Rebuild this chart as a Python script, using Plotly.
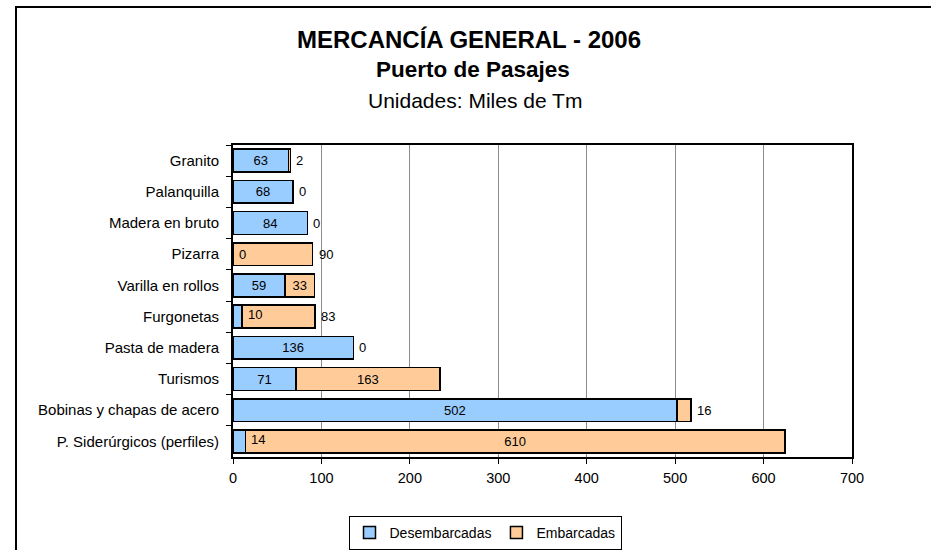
import plotly.graph_objects as go

categories = ["Granito", "Palanquilla", "Madera en bruto", "Pizarra", "Varilla en rollos",
              "Furgonetas", "Pasta de madera", "Turismos", "Bobinas y chapas de acero",
              "P. Siderúrgicos (perfiles)"]
desembarcadas = [63, 68, 84, 0, 59, 10, 136, 71, 502, 14]
embarcadas = [2, 0, 0, 90, 33, 83, 0, 163, 16, 610]
# label placement (True = label drawn inside the segment)
desemb_inside = [True, True, True, False, True, False, True, True, True, False]
emb_inside = [False, False, False, False, True, False, False, True, False, True]
x_ticks = [0, 100, 200, 300, 400, 500, 600, 700]

BLUE = "#99CCFF"
ORANGE = "#FFCC99"
FONT = "Liberation Sans, Arial, sans-serif"

W, H = 931, 550
# plot area in screen pixels
SX0, SX1, SY0, SY1 = 233, 852, 145, 457
L, R, T, B = SX0, W - SX1, SY0, H - SY1
PW, PH = W - L - R, H - T - B


def px_x(p):
    return (p - L) / PW


def px_y(p):
    return (H - B - p) / PH


totals = [d + e for d, e in zip(desembarcadas, embarcadas)]

fig = go.Figure()
fig.add_trace(go.Bar(
    y=categories, x=desembarcadas, orientation="h", name="Desembarcadas",
    marker=dict(color=BLUE, line=dict(color="black", width=1.5)),
    text=[str(v) if ok else "" for v, ok in zip(desembarcadas, desemb_inside)],
    textposition="inside", insidetextanchor="middle", constraintext="none",
    textfont=dict(size=13, color="black", family=FONT), hoverinfo="skip",
))
fig.add_trace(go.Bar(
    y=categories, x=embarcadas, orientation="h", name="Embarcadas",
    marker=dict(color=ORANGE, line=dict(color="black", width=1.5)),
    text=[str(v) if ok else "" for v, ok in zip(embarcadas, emb_inside)],
    textposition="inside", insidetextanchor="middle", constraintext="none",
    textfont=dict(size=13, color="black", family=FONT), hoverinfo="skip",
))

annotations = [
    dict(text="<b>MERCANCÍA GENERAL - 2006</b>", xref="paper", yref="paper",
         x=px_x(469), y=px_y(39.5), xanchor="center", yanchor="middle",
         showarrow=False, font=dict(size=24, family=FONT)),
    dict(text="<b>Puerto de Pasajes</b>", xref="paper", yref="paper",
         x=px_x(473), y=px_y(70), xanchor="center", yanchor="middle",
         showarrow=False, font=dict(size=22.5, family=FONT)),
    dict(text="Unidades: Miles de Tm", xref="paper", yref="paper",
         x=px_x(475), y=px_y(100.5), xanchor="center", yanchor="middle",
         showarrow=False, font=dict(size=21, family=FONT)),
]
# labels of small segments, drawn just right of the segment end
for c, v, ok in zip(categories, desembarcadas, desemb_inside):
    if not ok:
        annotations.append(dict(text=str(v), x=v, y=c, xref="x", yref="y",
                                xanchor="left", yanchor="middle", xshift=4,
                                yshift=2 if v > 0 else 0, showarrow=False,
                                font=dict(size=13, family=FONT)))
for c, v, t, ok in zip(categories, embarcadas, totals, emb_inside):
    if not ok:
        annotations.append(dict(text=str(v), x=t, y=c, xref="x", yref="y",
                                xanchor="left", yanchor="middle", xshift=4,
                                showarrow=False, font=dict(size=13, family=FONT)))

fig.update_layout(
    width=W, height=H, barmode="stack", bargap=0.27,
    margin=dict(l=L, r=R, t=T, b=B, pad=0, autoexpand=False),
    paper_bgcolor="white", plot_bgcolor="white",
    font=dict(family=FONT, color="black", size=14),
    showlegend=True,
    legend=dict(orientation="h", xref="paper", yref="paper",
                x=px_x(485), xanchor="center", y=px_y(516), yanchor="top",
                bgcolor="white", bordercolor="black", borderwidth=1,
                font=dict(size=14, family=FONT), traceorder="normal"),
    xaxis=dict(range=[0, 700], tickvals=x_ticks, ticktext=[str(v) for v in x_ticks],
               showgrid=True, gridcolor="#8C8C8C", gridwidth=1,
               showline=True, linecolor="black", linewidth=2, mirror=True,
               ticks="outside", ticklen=5, tickcolor="black", ticklabelstandoff=2,
               tickfont=dict(size=14.5), zeroline=False, fixedrange=True),
    yaxis=dict(categoryorder="array", categoryarray=categories, autorange="reversed",
               showline=True, linecolor="black", linewidth=2, mirror=True,
               ticks="outside", tickson="boundaries", ticklen=5, tickcolor="black",
               ticklabelstandoff=9, tickfont=dict(size=15), showgrid=False,
               fixedrange=True),
    shapes=[dict(type="rect", xref="paper", yref="paper",
                 x0=px_x(16), x1=px_x(990), y0=px_y(600), y1=px_y(7),
                 line=dict(color="black", width=2), fillcolor="rgba(0,0,0,0)",
                 layer="below")],
    annotations=annotations,
)

fig.write_html("out.html",
               config={"displayModeBar": False},
               post_script="document.body.style.margin='0';"
                           "document.documentElement.style.overflow='hidden';")
